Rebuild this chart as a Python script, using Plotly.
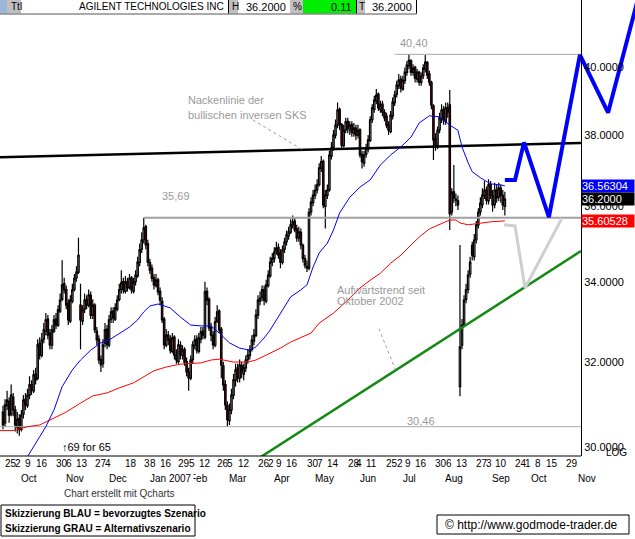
import numpy as np
import plotly.graph_objects as go

# ---------------- data (daily bars, index = trading day from 26 Sep 2006) ----------------
bar_idx = list(range(247))
open_ = [30.80,30.55,30.95,31.05,30.75,31.15,30.85,30.45,30.65,30.40,
30.75,31.10,30.95,31.20,31.45,31.30,31.70,31.60,32.45,32.15,
32.55,32.75,33.05,32.70,32.40,32.75,33.05,32.90,33.25,33.55,
33.95,33.80,33.45,33.00,33.50,33.80,34.10,34.25,33.40,33.00,
33.30,33.55,33.40,33.65,33.15,33.40,32.75,32.55,32.05,31.95,
32.45,32.80,32.40,33.05,33.25,33.05,33.30,33.55,33.80,34.00,
33.75,34.00,33.85,34.10,33.75,34.00,34.15,34.50,34.85,35.10,
35.45,35.00,34.50,34.35,34.10,33.90,34.05,33.75,33.50,33.05,
32.40,32.65,32.55,32.25,32.60,32.15,32.00,32.40,32.15,32.30,
32.00,31.75,31.60,32.05,32.40,32.55,32.25,32.55,32.75,32.60,
33.75,33.55,32.85,32.65,32.40,33.00,33.25,32.80,31.90,31.45,
30.95,30.60,30.85,31.20,31.55,31.85,31.60,31.90,31.70,31.85,
32.05,32.15,32.30,32.50,32.65,33.15,33.50,33.60,33.80,33.50,
33.90,34.15,34.50,34.60,34.80,34.90,34.75,34.50,34.85,35.05,
35.20,35.30,35.50,35.60,35.40,35.15,35.30,34.95,34.60,34.40,
34.35,35.85,36.10,36.30,36.45,36.60,37.05,37.25,36.00,36.30,
36.45,37.40,37.65,38.00,38.30,38.75,38.30,37.70,38.15,38.40,
38.15,38.30,38.05,38.20,38.00,38.15,37.45,37.20,37.45,37.60,
37.85,38.45,38.75,39.00,39.20,38.75,38.90,38.65,38.55,38.30,
38.10,38.55,38.95,39.20,39.45,39.65,39.35,39.60,39.85,40.05,
40.20,39.85,40.00,39.65,39.85,39.55,39.75,39.95,40.15,39.80,
39.55,38.85,37.90,37.70,38.15,38.45,38.75,38.40,38.80,38.88,
35.85,36.40,36.20,36.15,31.40,32.40,32.90,33.55,33.80,34.20,
34.95,34.65,35.10,35.50,35.85,36.05,36.30,36.45,36.15,36.60,
36.30,36.05,36.45,36.25,36.50,36.30,36.00]
high = [30.95,31.10,31.30,31.15,31.45,31.25,30.95,30.80,30.75,30.85,
31.20,31.25,31.35,31.65,31.55,31.80,31.85,32.55,32.60,32.70,
32.95,33.20,33.15,32.80,32.90,33.15,33.20,33.40,33.70,34.56,
34.10,33.90,33.55,33.65,33.95,34.20,34.40,35.15,33.95,33.40,
33.70,33.65,33.80,33.75,33.55,33.45,32.85,32.65,32.15,32.55,
32.95,32.90,33.15,33.35,33.35,33.45,33.65,33.95,34.30,34.10,
34.15,34.10,34.20,34.15,34.10,34.30,34.65,35.00,35.30,35.69,
35.50,35.10,34.60,34.45,34.20,34.20,34.10,33.85,33.60,33.10,
32.80,32.75,32.65,32.70,32.65,32.30,32.55,32.50,32.40,32.35,
32.10,31.85,32.15,32.50,32.65,32.65,32.70,32.85,32.85,34.00,
33.85,33.60,32.95,32.75,33.10,33.40,33.30,32.85,32.00,31.55,
31.05,31.00,31.35,31.70,31.95,31.95,32.05,32.00,31.95,32.15,
32.30,32.40,32.65,32.80,33.30,33.65,33.75,33.90,33.90,34.05,
34.30,34.65,34.75,34.90,35.05,35.00,34.85,34.95,35.15,35.35,
35.45,35.65,35.75,35.70,35.50,35.45,35.40,35.00,34.70,34.55,
35.95,36.25,36.45,36.60,36.75,37.20,37.40,37.30,36.45,36.60,
37.55,37.80,38.15,38.45,38.95,38.80,38.35,38.30,38.50,38.50,
38.40,38.40,38.35,38.30,38.30,38.20,37.55,37.55,37.75,38.00,
38.55,38.90,39.15,39.35,39.25,39.00,39.00,38.75,38.65,38.40,
38.70,39.10,39.30,39.60,39.80,39.75,39.75,40.00,40.20,40.40,
40.25,40.10,40.05,39.95,39.90,39.85,40.10,40.38,40.20,39.90,
39.60,38.90,38.05,38.25,38.65,38.90,38.85,38.95,38.95,39.32,
36.50,37.15,36.35,36.30,34.96,33.05,33.65,33.95,34.30,34.65,
35.05,35.25,35.60,35.95,36.25,36.50,36.70,36.55,36.75,36.70,
36.45,36.65,36.60,36.65,36.60,36.45,36.40]
low = [30.40,30.45,30.85,30.55,30.70,30.70,30.35,30.30,30.25,30.35,
30.65,30.85,30.90,31.10,31.20,31.25,31.45,31.55,32.05,32.10,
32.45,32.65,32.55,32.30,32.30,32.70,32.80,32.85,33.20,33.50,
33.70,33.30,32.90,32.95,33.45,33.75,34.00,34.20,32.30,32.90,
33.20,33.30,33.35,33.05,33.05,32.70,32.40,31.95,31.75,31.85,
32.35,32.30,32.35,32.95,32.95,33.00,33.25,33.50,33.70,33.70,
33.70,33.75,33.80,33.70,33.70,33.90,34.10,34.40,34.75,35.00,
34.85,34.40,34.20,34.00,33.80,33.85,33.65,33.40,32.95,32.30,
32.35,32.40,32.20,32.20,32.05,31.95,31.95,32.05,32.05,31.90,
31.65,31.30,31.55,31.95,32.30,32.20,32.20,32.45,32.55,32.55,
33.40,32.75,32.50,32.30,32.35,32.95,32.70,31.60,31.30,30.85,
30.46,30.50,30.75,31.10,31.40,31.50,31.50,31.60,31.55,31.75,
31.95,32.05,32.25,32.40,32.60,33.05,33.40,33.50,33.40,33.45,
33.85,34.10,34.40,34.50,34.70,34.60,34.35,34.45,34.75,34.95,
35.10,35.25,35.40,35.30,35.05,35.05,34.85,34.50,34.35,34.25,
34.30,35.75,36.00,36.20,36.35,36.55,36.95,35.95,35.40,36.20,
36.40,37.30,37.55,37.90,38.20,38.15,37.60,37.65,38.05,38.05,
38.00,37.95,37.95,37.85,37.90,37.35,37.05,37.10,37.35,37.50,
37.80,38.35,38.65,38.90,38.70,38.65,38.55,38.40,38.20,38.00,
38.05,38.45,38.85,39.10,39.35,39.25,39.30,39.50,39.75,39.95,
39.75,39.75,39.55,39.55,39.45,39.45,39.65,39.85,39.65,39.45,
38.75,37.29,37.55,37.60,38.05,38.35,38.30,38.30,38.50,35.36,
35.75,36.10,36.00,35.90,31.17,32.30,32.85,33.45,33.70,34.10,
34.55,34.55,35.00,35.40,35.75,35.95,36.20,36.05,36.05,36.20,
35.85,35.95,36.10,36.15,36.10,35.90,35.75]
close = [30.50,30.97,31.08,30.73,31.20,30.85,30.50,30.62,30.39,30.73,
31.08,30.97,31.20,31.44,31.32,31.68,31.56,32.41,32.16,32.53,
32.78,33.03,32.65,32.41,32.78,33.03,32.90,33.28,33.53,33.92,
33.79,33.40,33.03,33.53,33.79,34.09,34.25,34.69,33.03,33.28,
33.53,33.40,33.66,33.15,33.40,32.78,32.53,32.04,31.92,32.41,
32.78,32.41,33.03,33.23,33.08,33.33,33.53,33.79,33.97,33.79,
33.99,33.84,34.09,33.79,33.99,34.17,34.51,34.83,35.09,35.41,
34.96,34.51,34.30,34.09,33.92,34.04,33.74,33.53,33.03,32.41,
32.65,32.53,32.28,32.58,32.16,32.04,32.41,32.16,32.28,31.99,
31.75,31.61,32.04,32.41,32.53,32.28,32.58,32.73,32.65,33.74,
33.53,32.83,32.65,32.41,32.98,33.23,32.78,31.92,31.44,30.97,
30.62,30.85,31.20,31.56,31.80,31.61,31.92,31.75,31.85,32.04,
32.16,32.28,32.53,32.65,33.15,33.53,33.58,33.79,33.53,33.92,
34.17,34.51,34.61,34.77,34.88,34.69,34.51,34.83,35.04,35.23,
35.31,35.50,35.58,35.36,35.15,35.31,34.96,34.61,34.43,34.35,
35.84,36.12,36.31,36.45,36.59,37.07,37.24,36.04,36.31,36.45,
37.43,37.63,38.00,38.29,38.73,38.29,37.71,38.14,38.38,38.20,
38.29,38.08,38.20,38.00,38.14,37.43,37.24,37.43,37.63,37.86,
38.44,38.79,39.02,39.17,38.79,38.88,38.67,38.50,38.29,38.14,
38.58,38.96,39.17,39.47,39.62,39.38,39.62,39.86,40.07,40.22,
39.86,39.98,39.68,39.86,39.56,39.74,39.98,40.16,39.77,39.56,
38.88,37.86,37.71,38.14,38.50,38.73,38.44,38.79,38.67,35.80,
36.39,36.23,36.17,36.04,32.36,32.90,33.53,33.79,34.17,34.51,
34.69,35.09,35.50,35.84,36.09,36.31,36.45,36.17,36.59,36.31,
36.04,36.45,36.23,36.50,36.31,36.04,36.20]

# moving averages (index, value)
ma_blue_idx = [11,17,21,25,29,34,38,43,48,52,57,62,66,69,72,76,78,82,87,92,97,102,106,111,116,121,124,128,131,136,141,146,149,152,155,159,162,165,170,175,180,185,190,195,200,204,209,214,219,223,225,228,230,234,239,244,246]
ma_blue_val = [29.70,30.16,30.46,30.85,31.40,31.80,32.04,32.28,32.46,32.53,32.70,32.85,33.03,33.23,33.38,33.43,33.40,33.33,33.10,32.90,32.88,32.88,32.70,32.46,32.33,32.28,32.36,32.58,32.78,33.20,33.61,33.79,33.92,34.38,34.75,35.01,35.36,35.82,36.25,36.53,36.73,37.15,37.43,37.66,37.94,38.35,38.56,38.53,38.29,38.14,37.66,37.21,36.96,36.79,36.62,36.59,36.56304]
ma_red_idx = [-2,5,12,18,25,31,38,44,51,57,64,69,74,80,87,97,102,106,113,120,124,129,136,141,146,151,155,162,169,175,180,185,190,195,200,204,209,214,219,222,224,228,234,239,246]
ma_red_val = [30.37,30.37,30.46,30.50,30.66,30.80,31.01,31.18,31.25,31.37,31.49,31.63,31.78,31.87,31.94,31.97,32.04,32.06,31.99,31.99,32.04,32.16,32.33,32.48,32.58,32.70,32.95,33.20,33.53,33.84,34.04,34.22,34.48,34.69,34.96,35.17,35.39,35.50,35.63,35.63,35.55,35.50,35.55,35.58,35.60528]

# drawn lines
neck_idx = [-1.5, 283.3]; neck_val = [37.37, 37.77]
trend_idx = [120, 283.3]; trend_val = [29.58, 34.80]
lvl_hi_idx = [192, 283.3]; lvl_hi = 40.40
lvl_mid_idx = [69, 283.3]; lvl_mid = 35.69
lvl_lo_idx = [-1.5, 283.3]; lvl_lo = 30.46
blue_proj_idx = [246, 251, 255.4, 267.6, 282.8, 296.6, 312.3]
blue_proj_val = [36.73, 36.73, 37.79, 35.71, 40.38, 38.65, 42.40]
gray_proj_idx = [245.6, 251, 255.9, 274]
gray_proj_val = [35.50, 35.47, 33.84, 35.68]
ptr_neck_idx = [122.5, 147.1]; ptr_neck_val = [38.44, 37.57]
ptr_trend_idx = [184.3, 192.2]; ptr_trend_val = [32.81, 31.82]

y_ticks = [30, 32, 34, 36, 38, 40, 42]
y_ticktext = ["30.0000", "32.0000", "34.0000", "36.0000", "38.0000", "40.0000", "42.0000"]
week_idx = [-1,4,9,14,24,29,34,43,48,58,67,70,75,84,89,94,103,108,113,123,128,132,137,147,152,157,167,171,176,186,191,195,200,210,215,220,230,235,239,249,254,259,264,274]
week_text = ["25","2","9","16","30","6","13","27","4","18","3","8","16","29","5","12","26","5","12","26","2","9","16","30","7","14","28","4","11","25","2","9","16","30","6","13","27","3","10","24","1","8","15","29"]
month_idx = [4, 26, 47, 87, 67, 106, 128, 148, 170, 191, 212, 235, 254, 277]
month_text = ["Oct", "Nov", "Dec", "Feb", "Jan 2007", "Mar", "Apr", "May", "Jun", "Jul", "Aug", "Sep", "Oct", "Nov"]

last_price = 36.2000
blue_ma_last = 36.56304
red_ma_last = 35.60528

# ---------------- figure ----------------
W, H = 635, 539
PLOT_B = 456
FONT = "Liberation Sans, Arial, sans-serif"
def PX(x): return x / W
def PY(y): return (PLOT_B - y) / PLOT_B

fig = go.Figure()

def line(xs, ys, color, width, dash="solid"):
    fig.add_trace(go.Scatter(x=xs, y=ys, mode="lines", line=dict(color=color, width=width, dash=dash),
                             hoverinfo="skip", showlegend=False))

line(lvl_lo_idx, [lvl_lo, lvl_lo], "#a8a8a8", 1)
line(lvl_hi_idx, [lvl_hi, lvl_hi], "#a8a8a8", 1)
line(lvl_mid_idx, [lvl_mid, lvl_mid], "#a0a0a0", 2)
line(trend_idx, trend_val, "#138a13", 2.5)
line(neck_idx, neck_val, "#000000", 2.5)
line(ptr_neck_idx, ptr_neck_val, "#a0a0a0", 1, "dot")
line(ptr_trend_idx, ptr_trend_val, "#a0a0a0", 1, "dot")
line(ma_red_idx, ma_red_val, "#ff0000", 1)
line(ma_blue_idx, ma_blue_val, "#0000ff", 1)

fig.add_trace(go.Candlestick(
    x=bar_idx, open=open_, high=high, low=low, close=close,
    increasing=dict(line=dict(color="black", width=1.2), fillcolor="white"),
    decreasing=dict(line=dict(color="black", width=1.2), fillcolor="#e00000"),
    whiskerwidth=0, hoverinfo="skip", showlegend=False))

line(gray_proj_idx, gray_proj_val, "#cfcfcf", 3)
line(blue_proj_idx, blue_proj_val, "#0000ff", 4)

ann = []
def A(**k):
    base = dict(showarrow=False, yanchor="middle", font=dict(family=FONT, size=11, color="black"))
    f = k.pop("font", None)
    if f: base["font"].update(f)
    base.update(k)
    ann.append(base)

ly = np.log10
GRAY = "#9a9a9a"
A(x=89.7, y=ly(39.02), xref="x", yref="y", text="Nackenlinie der", xanchor="left", font=dict(color=GRAY))
A(x=89.7, y=ly(38.58), xref="x", yref="y", text="bullischen inversen SKS", xanchor="left", font=dict(color=GRAY))
A(x=77, y=ly(36.28), xref="x", yref="y", text="35,69", xanchor="left", font=dict(color=GRAY))
A(x=193.6, y=ly(40.75), xref="x", yref="y", text="40,40", xanchor="left", font=dict(color=GRAY))
A(x=197, y=ly(30.59), xref="x", yref="y", text="30,46", xanchor="left", font=dict(color=GRAY))
A(x=162.7, y=ly(33.79), xref="x", yref="y", text="Aufwärtstrend seit", xanchor="left", font=dict(color=GRAY))
A(x=162.7, y=ly(33.51), xref="x", yref="y", text="Oktober 2002", xanchor="left", font=dict(color=GRAY))
A(x=PX(60), y=PY(447), xref="paper", yref="paper", text="↑69 for 65", xanchor="left")

# right side value boxes
for val, txt, bg in [(blue_ma_last, "36.56304", "#0000ff"), (last_price, "36.2000", "#000000"),
                     (red_ma_last, "35.60528", "#ff0000")]:
    A(x=PX(581), y=ly(val), xref="paper", yref="y", text=txt, xanchor="left", align="left",
      bgcolor=bg, width=52, height=12, borderpad=0, font=dict(color="white"))
A(x=PX(604), y=PY(452), xref="paper", yref="paper", text="LOG", xanchor="left", font=dict(size=10))

# x labels
for i, t in zip(week_idx, week_text):
    A(x=i, y=PY(463), xref="x", yref="paper", text=t, xanchor="left", xshift=2, font=dict(size=10))
for i, t in zip(month_idx, month_text):
    A(x=i, y=PY(478), xref="x", yref="paper", text=t, xanchor="left", xshift=8, font=dict(size=10),
      bgcolor="white" if t.startswith("Jan") else None)

A(x=PX(62), y=PY(493), xref="paper", yref="paper", text="Chart erstellt mit Qcharts", xanchor="left",
  font=dict(size=10, color="#333333"))
A(x=PX(3), y=PY(513), xref="paper", yref="paper", text="<b>Skizzierung BLAU = bevorzugtes Szenario</b>",
  xanchor="left", font=dict(size=10))
A(x=PX(3), y=PY(528), xref="paper", yref="paper", text="<b>Skizzierung GRAU = Alternativszenario</b>",
  xanchor="left", font=dict(size=10))
A(x=PX(443), y=PY(525), xref="paper", yref="paper", text="© http://www.godmode-trader.de",
  xanchor="left", font=dict(size=12))

# header
shapes = []
def R(x0, x1, y0, y1, fill, lw=0, lc="black"):
    shapes.append(dict(type="rect", xref="paper", yref="paper", x0=PX(x0), x1=PX(x1), y0=PY(y1), y1=PY(y0),
                       fillcolor=fill, line=dict(width=lw, color=lc), layer="above"))
R(0, 7, 0, 13.5, "#9cb6d8")
R(7, 21, 0, 13.5, "#c0c0c0")
R(21, 228, 0, 13.5, "white")
R(229, 238, 0, 13.5, "#c0c0c0")
R(238, 290, 0, 13.5, "white")
R(290, 303, 0, 13.5, "#c0c0c0")
R(303, 356, 0, 13.5, "#00ee00")
R(357, 365, 0, 13.5, "#c0c0c0")
R(365, 416, 0, 13.5, "white")
for xv in [228.5, 356.5, 416.5]:
    shapes.append(dict(type="line", xref="paper", yref="paper", x0=PX(xv), x1=PX(xv), y0=PY(13.5), y1=1,
                       line=dict(color="black", width=1), layer="above"))
shapes.append(dict(type="line", xref="paper", yref="paper", x0=0, x1=PX(417), y0=PY(14), y1=PY(14),
                   line=dict(color="#555555", width=1), layer="above"))
HY = PY(7)
A(x=PX(9), y=HY, xref="paper", yref="paper", text="Ttl", xanchor="left", font=dict(size=10))
A(x=PX(226), y=HY, xref="paper", yref="paper", text="AGILENT TECHNOLOGIES INC", xanchor="right", font=dict(size=10))
A(x=PX(230), y=HY, xref="paper", yref="paper", text="H", xanchor="left", font=dict(size=10))
A(x=PX(288), y=HY, xref="paper", yref="paper", text="36.2000", xanchor="right")
A(x=PX(291), y=HY, xref="paper", yref="paper", text="%", xanchor="left", font=dict(size=10))
A(x=PX(354), y=HY, xref="paper", yref="paper", text="0.11", xanchor="right")
A(x=PX(357), y=HY, xref="paper", yref="paper", text="T", xanchor="left", font=dict(size=10))
A(x=PX(414), y=HY, xref="paper", yref="paper", text="36.2000", xanchor="right")

# x axis base line
shapes.append(dict(type="line", xref="paper", yref="paper", x0=0, x1=PX(581), y0=0, y1=0,
                   line=dict(color="black", width=1)))
# bottom boxes
shapes.append(dict(type="rect", xref="paper", yref="paper", x0=PX(1), x1=PX(195), y0=PY(536), y1=PY(505),
                   line=dict(color="black", width=1)))
shapes.append(dict(type="rect", xref="paper", yref="paper", x0=PX(437), x1=PX(629), y0=PY(534), y1=PY(515),
                   line=dict(color="black", width=1)))

fig.update_layout(
    width=W, height=H, margin=dict(l=0, r=0, t=0, b=H - PLOT_B),
    paper_bgcolor="white", plot_bgcolor="white", showlegend=False,
    font=dict(family=FONT, size=11, color="black"),
    boxgap=0.0,
    xaxis=dict(range=[-1.47, 309.8], showgrid=False, zeroline=False, showticklabels=False, ticks="",
               showline=False, rangeslider=dict(visible=False), fixedrange=True),
    yaxis=dict(type="log", range=[np.log10(29.79), np.log10(42.10)], anchor="free", position=581 / W,
               side="right", showline=True, linecolor="black", linewidth=1, ticks="",
               tickvals=y_ticks, ticktext=y_ticktext, tickfont=dict(size=11, color="black"),
               showgrid=False, zeroline=False, fixedrange=True),
    annotations=ann, shapes=shapes,
)
fig.write_html("out.html", config={"displayModeBar": False},
               post_script="document.body.style.margin='0';document.body.style.padding='0';")
